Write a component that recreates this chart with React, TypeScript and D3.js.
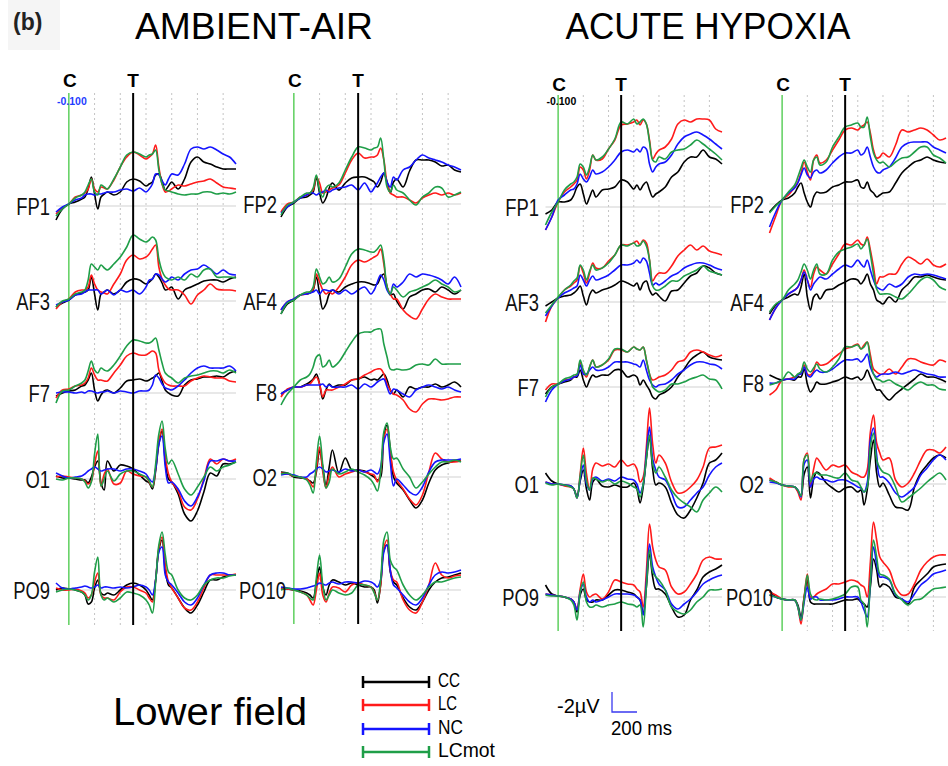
import React from 'react';
import * as d3 from 'd3';

// Sample times (ms) relative to the cue (C). Target (T) at 500 ms.
const TIMES = [-100,-50,0,50,100,125,150,175,200,225,250,275,300,350,400,450,500,550,600,625,650,675,700,725,750,775,800,850,900,950,1000,1050,1100,1150,1200,1250,1300];
const GRID_TIMES = [200,400,600,800,1000,1200];
const CUE_TIME = 0;
const TARGET_TIME = 500;
const CONDITIONS = ['CC','LC','NC','LCmot'];
const LEFT_CHANNELS = ['FP1','AF3','F7','O1','PO9'];
const RIGHT_CHANNELS = ['FP2','AF4','F8','O2','PO10'];
const SESSIONS = ['AMBIENT-AIR','ACUTE HYPOXIA'];
const SCALE_UV = 2;      // µV
const SCALE_MS = 200;    // ms

// Amplitudes in units of 0.1 µV, plotted with negativity up (value = upward deflection).
// ---------- AMBIENT-AIR ----------
const AMB_FP1_CC = [-14,-3,2,4,7,9,17,29,12,-3,9,12,14,11,14,24,27,25,20,22,24,31,32,25,16,20,24,17,27,44,49,44,42,39,37,37,37];
const AMB_FP1_LC = [-8,-2,2,9,11,13,17,27,17,14,19,18,17,26,39,49,54,51,47,49,52,61,39,22,14,15,17,21,20,22,24,25,27,23,19,18,17];
const AMB_FP1_NC = [-6,-1,2,6,8,11,12,12,11,12,12,13,14,14,16,17,15,18,14,17,22,32,31,25,21,27,32,31,42,57,59,57,59,56,52,49,42];
const AMB_FP1_LCmot = [-10,-3,2,8,11,14,21,27,14,11,21,19,17,27,39,51,54,52,49,51,52,56,36,22,16,15,14,12,11,12,12,14,14,12,13,12,14];

const AMB_AF3_CC = [-6,-2,1,6,8,9,11,24,7,-9,7,9,11,7,11,19,22,21,17,19,22,27,24,18,11,12,14,2,11,14,17,20,21,21,19,22,24];
const AMB_AF3_LC = [-8,-1,2,9,11,11,14,26,17,11,9,8,7,17,27,41,46,42,44,47,52,56,34,22,16,12,11,11,6,-3,6,11,17,12,11,11,10];
const AMB_AF3_NC = [-4,-1,1,6,7,9,11,11,11,11,7,9,11,6,11,9,11,7,14,21,22,27,26,22,19,21,24,21,27,31,32,36,32,27,31,27,26];
const AMB_AF3_LCmot = [-6,0,2,7,9,11,21,37,34,31,36,33,31,37,44,54,66,62,59,61,64,61,42,30,24,22,21,24,21,27,24,31,32,24,24,24,23];

const AMB_F7_CC = [-3,0,2,3,7,8,13,20,3,-8,-2,2,3,0,5,12,13,14,12,13,15,17,20,12,3,0,-2,-3,8,13,14,16,16,17,16,20,22];
const AMB_F7_LC = [-5,3,4,7,8,10,15,25,18,13,13,12,12,20,28,37,40,38,38,40,42,40,23,15,10,8,7,7,7,12,15,17,16,15,15,12,11];
const AMB_F7_NC = [0,1,1,0,1,0,2,2,1,0,1,1,2,0,2,1,0,2,2,3,8,18,15,9,5,4,3,7,13,20,25,27,25,25,25,27,22];
const AMB_F7_LCmot = [-10,2,3,7,10,13,22,32,23,20,25,23,22,28,37,47,53,52,50,50,52,55,43,30,20,17,15,10,15,17,18,20,22,22,20,23,20];

const AMB_O1_CC = [3,1,1,0,-1,-1,-4,2,12,18,-4,-11,18,8,14,13,10,4,-2,-4,-10,8,35,48,18,0,-3,-15,-35,-42,-32,-13,6,3,15,15,17];
const AMB_O1_LC = [2,3,2,1,0,-2,-5,-2,15,28,-7,5,10,-5,-4,8,5,3,2,-3,-8,10,38,50,22,5,-3,-12,-28,-31,-20,0,20,15,20,18,20];
const AMB_O1_NC = [6,3,1,2,3,5,8,10,12,10,8,9,10,10,8,10,10,8,5,0,-3,10,35,43,12,-4,-3,-10,-22,-27,-18,-2,18,18,20,18,18];
const AMB_O1_LCmot = [0,-1,1,1,0,-3,-9,-3,25,45,-7,0,8,-2,5,8,8,5,2,-2,-8,15,45,58,30,15,19,5,-10,-16,-8,2,12,8,12,14,17];

const AMB_PO9_CC = [0,2,1,0,-2,-5,-14,-12,2,10,-3,-5,-3,-5,0,5,7,5,0,-5,-10,10,40,50,20,5,2,-8,-18,-23,-15,-2,10,10,13,15,15];
const AMB_PO9_LC = [2,0,0,1,-1,-3,-8,-5,8,17,-5,-8,-8,-10,-2,3,3,0,-3,-8,-12,10,42,53,25,8,2,-8,-18,-20,-12,2,15,15,15,15,16];
const AMB_PO9_NC = [7,2,1,2,3,4,3,2,3,5,2,3,3,2,3,2,3,5,3,0,-5,10,38,43,15,8,5,-3,-12,-15,-8,5,15,17,17,15,15];
const AMB_PO9_LCmot = [-2,0,1,0,-2,-5,-10,-5,18,33,-5,-10,-8,-12,-8,-2,-3,-5,-10,-15,-23,8,45,58,35,18,15,0,-8,-10,-5,5,10,12,12,14,15];

const AMB_FP2_CC = [-13,-3,1,6,7,9,12,27,11,1,6,16,21,14,21,26,27,27,24,22,17,22,31,22,11,22,25,17,33,44,44,44,42,38,39,34,32];
const AMB_FP2_LC = [-8,0,2,7,9,11,14,27,21,11,12,14,16,19,31,44,51,46,47,47,49,56,44,21,11,9,7,7,4,1,6,9,11,9,11,9,11];
const AMB_FP2_NC = [-9,-3,2,6,9,11,11,9,11,12,14,12,14,16,17,19,14,21,12,16,21,27,31,22,17,27,24,34,37,44,49,46,44,42,39,37,34];
const AMB_FP2_LCmot = [-11,-1,2,7,11,11,16,29,14,7,16,19,17,21,34,47,57,56,54,56,57,66,44,17,12,19,14,11,4,-1,7,11,17,16,7,9,12];

const AMB_AF4_CC = [-13,-3,1,6,7,8,11,24,7,-8,-3,7,11,9,14,17,19,19,17,16,17,24,27,14,6,7,0,-8,4,7,11,12,9,14,11,7,11];
const AMB_AF4_LC = [-9,-1,2,6,7,9,12,27,19,11,7,9,7,14,24,36,41,39,42,44,46,52,37,14,7,2,2,-9,-15,-18,-8,2,7,4,2,2,2];
const AMB_AF4_NC = [-9,-1,2,6,7,8,9,11,7,11,11,10,11,7,11,7,11,14,7,11,19,26,21,11,7,17,14,19,27,24,27,26,24,21,17,24,14];
const AMB_AF4_LCmot = [-13,-2,1,6,9,9,14,32,24,17,19,24,19,22,34,47,52,51,49,49,52,56,41,14,7,14,11,4,9,11,14,17,21,17,14,9,11];

const AMB_F8_CC = [-2,2,5,5,8,10,13,18,8,-7,2,8,5,7,7,12,13,15,12,13,12,15,18,12,2,-2,2,-5,5,3,5,5,8,5,7,10,5];
const AMB_F8_LC = [-5,3,5,5,7,8,12,15,8,-5,2,2,2,5,8,12,13,17,20,22,23,23,18,8,2,-2,-3,-8,-17,-20,-12,-7,-7,-8,-7,-5,-5];
const AMB_F8_NC = [-2,2,5,5,7,7,7,7,7,8,5,7,5,5,5,7,3,8,5,7,10,12,13,5,-2,3,2,-2,-5,2,5,7,5,3,5,2,0];
const AMB_F8_LCmot = [-13,-2,5,12,15,18,25,35,37,25,27,32,25,30,40,50,58,60,60,62,63,63,48,35,23,22,23,22,23,27,28,27,33,28,28,28,28];

const AMB_O2_CC = [5,4,0,-1,-2,-4,-6,5,27,10,-8,10,27,4,19,7,7,6,2,0,-3,0,41,52,27,0,-6,-13,-23,-31,-23,-6,7,12,14,16,16];
const AMB_O2_LC = [4,3,1,0,-2,-5,-10,8,30,5,-11,2,10,0,3,5,7,5,3,2,-5,5,38,48,25,5,-3,-12,-22,-28,-18,5,24,18,15,15,16];
const AMB_O2_NC = [2,3,2,0,0,3,5,8,10,8,5,6,7,5,8,6,7,5,7,5,3,10,35,43,15,-9,-2,-8,-15,-18,-10,5,15,17,17,17,18];
const AMB_O2_LCmot = [3,4,1,0,-3,-8,-16,15,41,12,-11,-5,8,3,5,8,5,2,-3,-8,-14,5,45,54,30,18,19,8,0,-11,-5,3,10,15,15,17,15];

const AMB_PO10_CC = [2,1,0,-1,-3,-5,-8,8,23,3,-5,5,10,8,5,7,5,3,3,0,-13,5,40,45,18,8,5,-8,-17,-20,-12,0,8,12,13,15,17];
const AMB_PO10_LC = [2,1,0,-2,-5,-10,-15,0,17,-5,-12,-3,3,2,-2,5,7,5,3,-2,-10,5,42,50,20,10,8,-10,-20,-23,-12,5,27,15,12,14,15];
const AMB_PO10_NC = [3,2,1,1,2,3,4,5,7,6,5,7,8,6,8,8,7,9,8,6,3,10,38,45,20,5,2,-5,-12,-15,-8,5,15,18,17,18,20];
const AMB_PO10_LCmot = [0,2,0,-2,-5,-8,-10,12,35,5,-10,-5,0,-3,-5,-3,5,5,3,-3,-10,10,50,58,30,23,20,5,-5,-10,-5,3,8,8,10,12,13];

// ---------- ACUTE HYPOXIA ----------
const HYP_FP1_CC = [-7,-3,5,5,7,12,20,23,13,3,10,17,10,17,18,20,27,25,18,22,17,22,25,17,10,13,15,20,30,35,45,50,50,57,50,48,43];
const HYP_FP1_LC = [-23,-10,5,15,20,23,27,40,37,28,37,52,47,48,58,67,82,83,85,87,82,87,83,67,48,53,57,60,68,83,87,85,88,88,87,78,75];
const HYP_FP1_NC = [-23,-10,7,12,17,18,23,33,28,25,30,37,33,35,40,47,55,57,55,58,55,60,58,43,35,40,43,45,52,63,70,73,75,72,68,63,58];
const HYP_FP1_LCmot = [-18,-5,5,17,23,25,30,43,40,32,40,52,47,50,58,68,85,83,88,83,85,88,83,65,47,45,50,48,55,57,58,62,67,63,58,53,47];

const HYP_AF3_CC = [-4,0,4,6,7,9,12,16,6,-3,7,12,9,12,14,17,21,19,16,19,12,19,21,12,7,9,6,1,11,12,19,26,29,36,34,29,27];
const HYP_AF3_LC = [-20,-4,4,12,16,19,22,36,29,19,29,39,34,34,41,47,57,57,59,61,57,62,59,42,21,26,29,29,36,46,52,57,52,56,51,49,47];
const HYP_AF3_NC = [-14,-4,4,9,12,14,16,27,22,16,22,26,22,24,27,32,37,37,39,42,39,44,41,29,17,19,17,21,26,29,34,37,39,39,37,34,32];
const HYP_AF3_LCmot = [-11,-3,5,12,17,21,24,37,32,22,31,37,32,34,39,47,57,56,59,56,57,61,56,42,16,12,12,16,21,21,26,29,32,36,31,29,27];

const HYP_F7_CC = [-7,0,3,5,7,10,10,17,7,0,7,12,10,12,12,17,17,10,12,10,2,7,2,-3,-10,-12,-8,-5,0,10,18,27,32,35,30,28,27];
const HYP_F7_LC = [-3,3,3,7,8,10,12,25,15,10,20,27,20,22,27,37,37,35,40,38,37,40,27,13,7,8,10,12,17,25,27,35,37,35,32,30,32];
const HYP_F7_NC = [-15,-3,3,6,8,10,11,22,13,13,17,20,17,17,20,25,25,25,23,22,20,27,17,7,2,0,2,3,7,13,17,22,25,25,23,22,18];
const HYP_F7_LCmot = [-10,0,3,8,10,12,13,27,17,12,20,27,20,22,28,38,38,35,40,38,37,40,27,13,0,-3,-5,-3,3,3,5,8,10,12,8,7,-2];

const HYP_O1_CC = [11,3,0,-1,-2,-5,-12,3,14,-5,-16,2,5,-2,-3,-1,-3,-3,1,-5,-19,-3,25,47,15,-1,1,-3,-19,-31,-34,-26,-14,1,21,24,31];
const HYP_O1_LC = [2,0,0,-2,-3,-5,-14,10,36,10,-6,15,21,18,20,17,24,18,20,15,2,7,37,76,40,21,29,21,2,-9,-8,-3,4,17,36,37,39];
const HYP_O1_NC = [2,0,0,-1,-2,-5,-14,5,19,0,-6,5,7,3,5,3,7,5,4,0,-9,0,30,57,25,14,7,4,-9,-23,-23,-16,-9,-3,9,17,21];
const HYP_O1_LCmot = [1,-1,0,-1,-3,-5,-14,8,29,3,-6,6,5,2,4,0,3,1,-3,-5,-13,0,25,49,20,11,17,7,-6,-14,-19,-23,-28,-16,-9,-3,-8];

const HYP_PO9_CC = [12,3,1,0,-2,-5,-15,2,8,-3,-5,-5,-3,-3,2,7,7,5,3,0,-3,-17,10,43,20,8,8,3,-10,-20,-18,-3,7,20,25,28,32];
const HYP_PO9_LC = [3,2,1,0,-2,-5,-12,8,23,5,0,2,3,-2,5,17,15,13,12,8,5,-10,25,73,50,37,30,27,10,3,5,13,23,37,40,38,38];
const HYP_PO9_NC = [3,2,1,0,-2,-5,-13,5,13,0,-5,-3,-5,-3,0,3,3,3,2,0,-3,-18,15,53,30,20,13,7,-7,-12,-7,-2,5,13,17,20,22];
const HYP_PO9_LCmot = [2,1,1,0,-3,-8,-23,5,15,-5,-10,-10,-8,-10,-8,-7,-5,-7,-8,-10,-8,-30,10,47,25,20,17,7,-10,-15,-17,-13,-5,0,7,7,8];

const HYP_FP2_CC = [-8,-1,4,6,11,17,21,11,2,-3,7,12,11,12,17,19,22,22,24,17,16,22,14,11,7,9,11,12,21,31,37,42,44,47,44,42,41];
const HYP_FP2_LC = [-29,-12,4,9,17,22,31,42,32,24,44,49,41,44,54,64,74,76,74,77,79,82,71,54,46,47,51,47,59,74,72,74,76,74,69,64,66];
const HYP_FP2_NC = [-23,-8,4,11,16,21,29,36,29,26,32,34,31,34,41,47,51,51,54,49,51,57,47,37,32,31,34,37,46,57,61,62,62,62,57,54,51];
const HYP_FP2_LCmot = [-9,-2,4,12,19,27,36,44,37,32,44,47,39,42,57,67,77,79,81,77,77,87,67,51,44,41,42,37,42,46,47,52,57,57,49,46,41];

const HYP_AF4_CC = [-12,-3,2,5,8,7,15,28,5,-8,5,8,3,12,13,17,20,23,22,18,22,28,18,12,2,0,-2,5,0,12,18,25,25,27,25,23,22];
const HYP_AF4_LC = [-18,-6,2,8,12,15,22,32,22,15,28,35,32,28,38,48,58,57,62,58,57,65,52,35,18,25,25,28,28,38,45,42,38,43,37,35,38];
const HYP_AF4_NC = [-18,-6,2,8,12,15,22,30,22,12,18,22,25,23,28,33,37,35,42,38,35,42,32,22,15,13,12,18,15,18,25,28,27,28,27,25,23];
const HYP_AF4_LCmot = [-10,-2,2,12,18,22,30,38,32,23,32,38,28,28,42,50,53,55,58,53,57,63,48,28,13,8,8,8,5,3,8,15,22,25,22,15,12];

const HYP_F8_CC = [8,5,3,4,3,6,6,14,-1,-9,-5,1,-1,-1,1,3,6,4,6,3,6,13,6,-1,-7,-7,-11,-17,-11,-6,-1,4,9,6,6,4,1];
const HYP_F8_LC = [-12,-7,3,4,6,8,11,18,9,8,12,21,18,19,24,29,34,36,39,34,38,41,28,14,11,9,9,14,9,16,24,24,21,19,18,23,21];
const HYP_F8_NC = [0,0,3,4,4,8,9,16,8,6,10,13,11,11,14,19,23,23,24,21,24,29,16,9,6,8,9,9,11,9,11,13,11,9,8,6,6];
const HYP_F8_LCmot = [-2,0,3,11,6,9,11,21,14,11,15,19,14,11,16,24,36,36,38,34,36,41,23,9,4,3,1,3,-1,-4,-7,-2,1,-2,-2,-6,-7];

const HYP_O2_CC = [4,2,-1,-2,-3,-7,-12,10,17,-14,5,12,10,1,-4,-8,-4,-3,-8,-6,-21,-6,24,44,11,-3,1,-11,-23,-24,-26,-3,11,19,26,29,26];
const HYP_O2_LC = [6,2,-1,-3,-3,-8,-16,25,31,-3,15,26,22,14,19,17,19,12,9,7,7,14,52,69,41,31,24,26,4,-3,1,11,24,34,34,31,37];
const HYP_O2_NC = [2,1,-1,-2,-3,-6,-13,20,24,-3,5,7,5,4,2,4,4,1,-3,-4,-8,1,44,56,29,7,7,1,-9,-13,-9,-3,9,16,24,29,24];
const HYP_O2_LCmot = [4,2,-1,-2,-3,-6,-12,25,29,2,10,11,9,9,7,6,11,4,2,-3,-8,-3,37,51,24,16,12,9,-3,-18,-14,-9,-4,2,7,11,4];

const HYP_PO10_CC = [7,0,-2,-3,-3,-8,-20,0,17,-5,-7,-7,-7,-7,-7,-5,-3,-3,-2,-5,-7,-10,10,38,27,10,13,10,0,-2,-7,10,17,23,30,32,33];
const HYP_PO10_LC = [5,2,-2,-3,-3,-10,-27,0,23,0,0,3,5,8,13,13,15,17,15,12,10,0,35,75,57,40,35,27,10,2,3,13,27,35,40,42,42];
const HYP_PO10_NC = [2,0,-2,-3,-3,-10,-23,-5,10,-2,0,0,-3,-3,-3,-2,0,0,0,-5,-13,-20,15,50,33,20,20,17,2,-2,-5,3,12,17,23,25,27];
const HYP_PO10_LCmot = [2,0,-2,-3,-3,-10,-23,-2,22,3,-2,-3,-2,-3,-2,0,3,10,10,-3,-7,-30,15,57,40,23,22,18,3,-3,-8,-3,-2,3,8,9,10];

// Lookup table built from the named arrays
const SERIES: Record<string, Record<string, Record<string, number[]>>> = {
  'AMBIENT-AIR': {
    FP1: { CC: AMB_FP1_CC, LC: AMB_FP1_LC, NC: AMB_FP1_NC, LCmot: AMB_FP1_LCmot },
    AF3: { CC: AMB_AF3_CC, LC: AMB_AF3_LC, NC: AMB_AF3_NC, LCmot: AMB_AF3_LCmot },
    F7: { CC: AMB_F7_CC, LC: AMB_F7_LC, NC: AMB_F7_NC, LCmot: AMB_F7_LCmot },
    O1: { CC: AMB_O1_CC, LC: AMB_O1_LC, NC: AMB_O1_NC, LCmot: AMB_O1_LCmot },
    PO9: { CC: AMB_PO9_CC, LC: AMB_PO9_LC, NC: AMB_PO9_NC, LCmot: AMB_PO9_LCmot },
    FP2: { CC: AMB_FP2_CC, LC: AMB_FP2_LC, NC: AMB_FP2_NC, LCmot: AMB_FP2_LCmot },
    AF4: { CC: AMB_AF4_CC, LC: AMB_AF4_LC, NC: AMB_AF4_NC, LCmot: AMB_AF4_LCmot },
    F8: { CC: AMB_F8_CC, LC: AMB_F8_LC, NC: AMB_F8_NC, LCmot: AMB_F8_LCmot },
    O2: { CC: AMB_O2_CC, LC: AMB_O2_LC, NC: AMB_O2_NC, LCmot: AMB_O2_LCmot },
    PO10: { CC: AMB_PO10_CC, LC: AMB_PO10_LC, NC: AMB_PO10_NC, LCmot: AMB_PO10_LCmot },
  },
  'ACUTE HYPOXIA': {
    FP1: { CC: HYP_FP1_CC, LC: HYP_FP1_LC, NC: HYP_FP1_NC, LCmot: HYP_FP1_LCmot },
    AF3: { CC: HYP_AF3_CC, LC: HYP_AF3_LC, NC: HYP_AF3_NC, LCmot: HYP_AF3_LCmot },
    F7: { CC: HYP_F7_CC, LC: HYP_F7_LC, NC: HYP_F7_NC, LCmot: HYP_F7_LCmot },
    O1: { CC: HYP_O1_CC, LC: HYP_O1_LC, NC: HYP_O1_NC, LCmot: HYP_O1_LCmot },
    PO9: { CC: HYP_PO9_CC, LC: HYP_PO9_LC, NC: HYP_PO9_NC, LCmot: HYP_PO9_LCmot },
    FP2: { CC: HYP_FP2_CC, LC: HYP_FP2_LC, NC: HYP_FP2_NC, LCmot: HYP_FP2_LCmot },
    AF4: { CC: HYP_AF4_CC, LC: HYP_AF4_LC, NC: HYP_AF4_NC, LCmot: HYP_AF4_LCmot },
    F8: { CC: HYP_F8_CC, LC: HYP_F8_LC, NC: HYP_F8_NC, LCmot: HYP_F8_LCmot },
    O2: { CC: HYP_O2_CC, LC: HYP_O2_LC, NC: HYP_O2_NC, LCmot: HYP_O2_LCmot },
    PO10: { CC: HYP_PO10_CC, LC: HYP_PO10_LC, NC: HYP_PO10_NC, LCmot: HYP_PO10_LCmot },
  },
};

const COLORS: Record<string, string> = { CC: '#000000', LC: '#ff1a1a', NC: '#1414ff', LCmot: '#1f9e48' };
const FONT = "'Liberation Sans', Arial, sans-serif";
const PX_PER_UNIT = 1; // px per 0.1 µV

type PanelCfg = {
  session: string; channels: string[]; x0: number; x1: number; baselines: number[];
  top: number; bottom: number; labelRight: number; capY: number; refLabel: boolean; refColor: string;
};

const PANELS: PanelCfg[] = [
  { session: SESSIONS[0], channels: LEFT_CHANNELS, x0: 56, x1: 236, baselines: [206, 301, 393, 479, 590], top: 93, bottom: 625, labelRight: 50, capY: 87, refLabel: true, refColor: '#1f3dff' },
  { session: SESSIONS[0], channels: RIGHT_CHANNELS, x0: 281, x1: 461, baselines: [204, 301, 392, 477, 590], top: 93, bottom: 624, labelRight: 277, capY: 87, refLabel: false, refColor: '#000' },
  { session: SESSIONS[1], channels: LEFT_CHANNELS, x0: 545.5, x1: 722, baselines: [207, 302, 387, 484, 597], top: 95, bottom: 631, labelRight: 539, capY: 91, refLabel: true, refColor: '#000' },
  { session: SESSIONS[1], channels: RIGHT_CHANNELS, x0: 769.5, x1: 946, baselines: [204, 302, 383, 484, 597], top: 95, bottom: 631, labelRight: 764, capY: 91, refLabel: false, refColor: '#000' },
];

function Panel({ cfg }: { cfg: PanelCfg }) {
  const x = d3.scaleLinear().domain([TIMES[0], TIMES[TIMES.length - 1]]).range([cfg.x0, cfg.x1]);
  return (
    <g>
      {GRID_TIMES.map((t) => (
        <line key={'g' + t} x1={x(t)} x2={x(t)} y1={cfg.top} y2={cfg.bottom} stroke="#c4c4c4" strokeWidth={1} strokeDasharray="2,3" />
      ))}
      {cfg.channels.map((ch, i) => {
        const base = cfg.baselines[i];
        return <line key={'b' + ch} x1={cfg.x0} x2={cfg.x1} y1={base} y2={base} stroke="#d2d2d2" strokeWidth={1.2} />;
      })}
      <line x1={x(CUE_TIME)} x2={x(CUE_TIME)} y1={cfg.top} y2={cfg.bottom} stroke="#45c845" strokeWidth={1.3} />
      {cfg.channels.map((ch, i) => {
        const base = cfg.baselines[i];
        const y = d3.scaleLinear().domain([0, 10]).range([base, base - 10 * PX_PER_UNIT]);
        const line = d3.line<number>().x((_, j) => x(TIMES[j])).y((v) => y(v)).curve(d3.curveCatmullRom.alpha(0.5));
        const extra = ch.length > 3 ? 9 : 0;
        return (
          <g key={ch}>
            {CONDITIONS.map((c) => (
              <path key={c} d={line(SERIES[cfg.session][ch][c]) || ''} fill="none" stroke={COLORS[c]} strokeWidth={1.6} strokeLinejoin="round" />
            ))}
            <text transform={`translate(${cfg.labelRight + extra},${base + 9}) scale(0.8,1)`} textAnchor="end" fontSize={23} fontFamily={FONT} fill="#111">{ch}</text>
          </g>
        );
      })}
      <line x1={x(TARGET_TIME)} x2={x(TARGET_TIME)} y1={cfg.top} y2={cfg.bottom} stroke="#000" strokeWidth={2} />
      <text x={x(CUE_TIME) + 1} y={cfg.capY} textAnchor="middle" fontSize={19} fontWeight="bold" fontFamily={FONT} fill="#000">C</text>
      <text x={x(TARGET_TIME)} y={cfg.capY} textAnchor="middle" fontSize={19} fontWeight="bold" fontFamily={FONT} fill="#000">T</text>
      {cfg.refLabel && (
        <text x={cfg.x0 + 1} y={105} fontSize={10.5} fontWeight="bold" fontFamily={FONT} fill={cfg.refColor}>{(TIMES[0] / 1000).toFixed(3)}</text>
      )}
    </g>
  );
}

const LEGEND_Y = [682, 705, 729, 752];

export default function App() {
  const xs = d3.scaleLinear().domain([0, SCALE_MS]).range([612, 637]);
  const ys = d3.scaleLinear().domain([0, SCALE_UV * 10]).range([712, 712 - SCALE_UV * 10 * PX_PER_UNIT]);
  const legendWidths: Record<string, number> = { CC: 22, LC: 19, NC: 25, LCmot: 57 };
  return (
    <svg width={948} height={766} viewBox="0 0 948 766" style={{ position: 'absolute', left: 0, top: 0, background: '#fff' }}>
      <rect x={0} y={0} width={948} height={766} fill="#fff" />
      <rect x={8} y={0} width={52} height={50} fill="#f5f5f5" />
      <text x={13} y={30} fontSize={23} fontWeight="bold" fontFamily={FONT} fill="#222">(b)</text>
      <text x={254} y={39} textAnchor="middle" fontSize={36} fontFamily={FONT} textLength={238} lengthAdjust="spacingAndGlyphs" fill="#000">{SESSIONS[0]}</text>
      <text x={708} y={39} textAnchor="middle" fontSize={36} fontFamily={FONT} textLength={285} lengthAdjust="spacingAndGlyphs" fill="#000">{SESSIONS[1]}</text>
      {PANELS.map((p, i) => <Panel key={i} cfg={p} />)}

      <text x={113} y={725} fontSize={38} fontFamily={FONT} textLength={194} lengthAdjust="spacingAndGlyphs" fill="#000">Lower field</text>

      {CONDITIONS.map((c, i) => {
        const y = LEGEND_Y[i];
        return (
          <g key={c}>
            <line x1={363} x2={429} y1={y} y2={y} stroke={COLORS[c]} strokeWidth={2.5} />
            <line x1={363} x2={363} y1={y - 6} y2={y + 6} stroke={COLORS[c]} strokeWidth={2.5} />
            <line x1={429} x2={429} y1={y - 6} y2={y + 6} stroke={COLORS[c]} strokeWidth={2.5} />
            <text x={438} y={y + 5} fontSize={20} fontFamily={FONT} textLength={legendWidths[c]} lengthAdjust="spacingAndGlyphs" fill="#000">{c}</text>
          </g>
        );
      })}

      <text x={557} y={713} fontSize={20} fontFamily={FONT} fill="#000">{`-${SCALE_UV}µV`}</text>
      <path d={`M${xs(0)},${ys(SCALE_UV * 10)} L${xs(0)},${ys(0)} L${xs(SCALE_MS)},${ys(0)}`} fill="none" stroke="#3a3af0" strokeWidth={1.3} />
      <text x={611} y={735} fontSize={20} fontFamily={FONT} textLength={61} lengthAdjust="spacingAndGlyphs" fill="#000">{`${SCALE_MS} ms`}</text>
    </svg>
  );
}
